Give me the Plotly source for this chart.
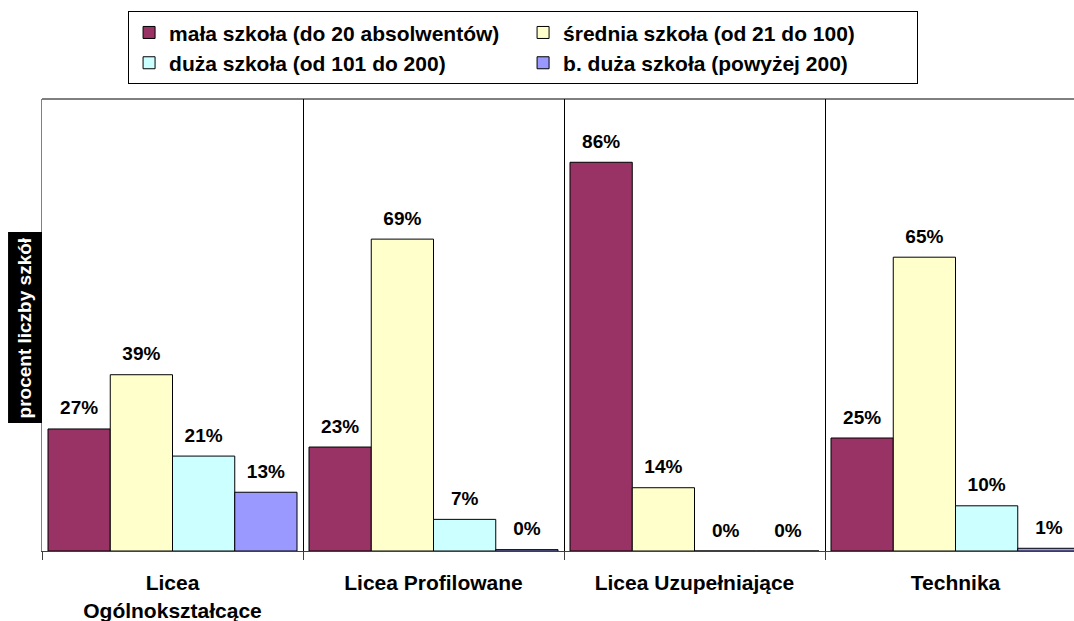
import plotly.graph_objects as go

categories = ["Licea<br>Ogólnokształcące", "Licea Profilowane", "Licea Uzupełniające", "Technika"]
series_names = ["mała szkoła (do 20 absolwentów)", "średnia szkoła (od 21 do 100)",
                "duża szkoła (od 101 do 200)", "b. duża szkoła (powyżej 200)"]
mala = [27, 23, 86, 25]
srednia = [39, 69, 14, 65]
duza = [21, 7, 0, 10]
bduza = [13, 0.3, 0, 0.6]
colors = ["#993366", "#FFFFCC", "#CCFFFF", "#9999FF"]

FONT = "Liberation Sans, Arial, sans-serif"

fig = go.Figure()
for i, (name, vals, col) in enumerate(zip(series_names, [mala, srednia, duza, bduza], colors)):
    fig.add_trace(go.Bar(
        x=categories, y=vals, name=name, offsetgroup=str(i), alignmentgroup="a",
        marker=dict(color=col, line=dict(color="black", width=1)),
        hoverinfo="skip",
    ))
for i, vals in enumerate([mala, srednia, duza, bduza]):
    fig.add_trace(go.Scatter(
        x=categories, y=vals, mode="markers+text", offsetgroup=str(i), alignmentgroup="a",
        marker=dict(size=14, opacity=0), showlegend=False,
        texttemplate="%{y:.0f}%", textposition="top center",
        textfont=dict(family=FONT, size=19, color="black", weight="bold"),
        cliponaxis=False, hoverinfo="skip",
    ))

fig.update_layout(
    width=1074, height=621,
    margin=dict(l=42, r=0, t=99, b=70, autoexpand=False),
    paper_bgcolor="white", plot_bgcolor="white",
    barmode="group", bargap=0.046, bargroupgap=0,
    scattermode="group", scattergap=0.046,
    font=dict(family=FONT, color="black", weight="bold"),
    showlegend=True,
    legend=dict(
        orientation="h", x=0.0834, xanchor="left", y=1.194, yanchor="top",
        bordercolor="black", borderwidth=1,
        font=dict(family=FONT, size=21, color="black", weight="bold"),
        entrywidth=349, traceorder="normal", itemwidth=30,
    ),
    xaxis=dict(
        range=[-0.5, 3.454], tickson="boundaries", ticks="outside", ticklen=8,
        tickcolor="#404040", showline=True, linecolor="#404040", linewidth=1,
        showgrid=True, gridcolor="black", gridwidth=1,
        tickfont=dict(family=FONT, size=21, color="black", weight="bold"),
        ticklabelstandoff=13, fixedrange=True, automargin=False,
    ),
    yaxis=dict(
        range=[0, 100], showticklabels=False, showgrid=False, zeroline=False,
        showline=True, linecolor="#808080", linewidth=1, ticks="", fixedrange=True,
        automargin=False,
    ),
    shapes=[
        dict(type="line", xref="paper", yref="paper", x0=0, x1=1, y0=1, y1=1,
             line=dict(color="black", width=1)),
        dict(type="rect", xref="paper", yref="paper", x0=-0.0329, x1=0, y0=0.283, y1=0.706,
             fillcolor="black", line=dict(width=0)),
    ],
    annotations=[
        dict(text="procent liczby szkół", xref="paper", yref="paper",
             x=-0.0165, y=0.4945, xanchor="center", yanchor="middle", textangle=-90,
             showarrow=False, font=dict(family=FONT, size=19, color="white", weight="bold")),
    ],
)

fig.write_html("out.html", post_script="document.body.style.margin='0';",
               config={"displayModeBar": False})
